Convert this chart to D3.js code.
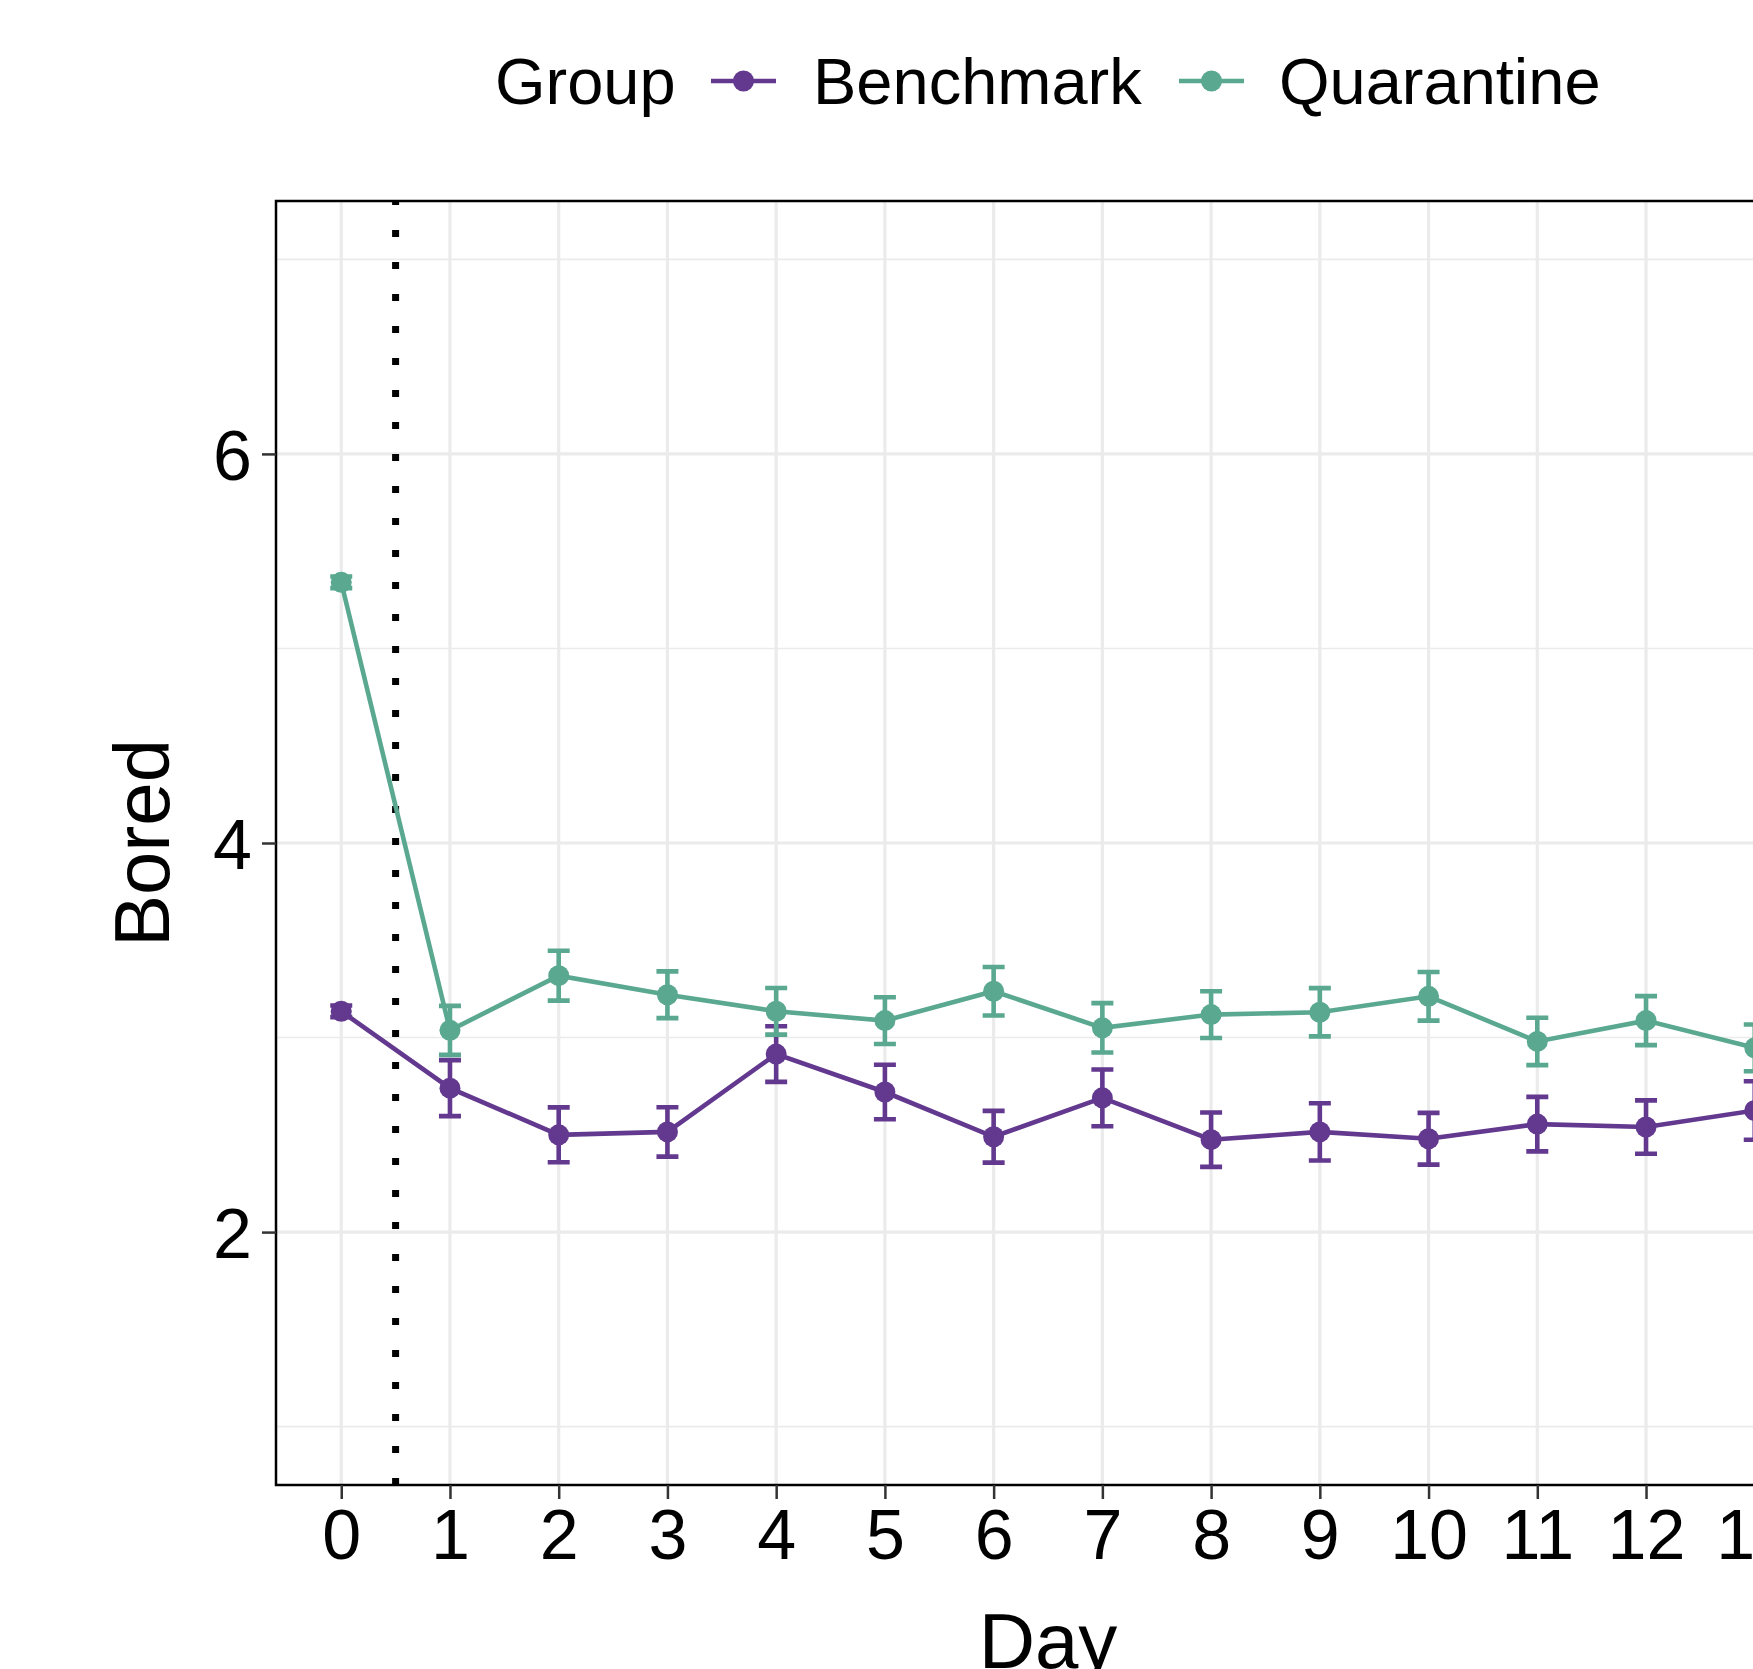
<html>
<head>
<meta charset="utf-8">
<style>
  body { margin: 0; background: #fff; }
  text { font-family: "Liberation Sans", Arial, Helvetica, sans-serif; fill: #000; }
</style>
</head>
<body>
<script src="https://cdn.jsdelivr.net/npm/d3@7"></script>
<script>
// data
var days = [0, 1, 2, 3, 4, 5, 6, 7, 8, 9, 10, 11, 12, 13];
var groups = ["Benchmark", "Quarantine"];
var benchMean = [3.135, 2.74, 2.50, 2.515, 2.915, 2.72, 2.49, 2.69, 2.475, 2.515, 2.48, 2.555, 2.54, 2.625];
var benchSE   = [0.03, 0.144, 0.141, 0.127, 0.143, 0.14, 0.133, 0.146, 0.14, 0.147, 0.133, 0.14, 0.137, 0.15];
var quarMean  = [5.34, 3.037, 3.318, 3.22, 3.135, 3.087, 3.238, 3.05, 3.118, 3.13, 3.212, 2.98, 3.087, 2.947];
var quarSE    = [0.03, 0.126, 0.128, 0.12, 0.12, 0.12, 0.125, 0.127, 0.12, 0.124, 0.125, 0.122, 0.126, 0.12];
var yTicks = [2, 4, 6];
var yMinor = [1, 3, 5, 7];
var cutDay = 0.5;
var colors = ["#63398F", "#5AA88F"];

var W = 1753, H = 1669;
var svg = d3.select("body").append("svg").attr("width", W).attr("height", H);

// panel (cropped on the right like the original)
var pLeft = 276, pTop = 201, pBottom = 1485, pRight = 1820;
var x = d3.scaleLinear().domain([-0.6, days.length - 1 + 0.6]).range([pLeft, pRight]);
var y = d3.scaleLinear().domain([0.7, 7.3]).range([pBottom, pTop]);

var series = [
  { name: groups[0], mean: benchMean, se: benchSE, color: colors[0] },
  { name: groups[1], mean: quarMean, se: quarSE, color: colors[1] }
];

var panel = svg.append("g");
panel.append("rect").attr("x", pLeft).attr("y", pTop)
  .attr("width", pRight - pLeft).attr("height", pBottom - pTop).attr("fill", "#fff");

// grid
panel.selectAll(".ymin").data(yMinor).enter().append("line")
  .attr("x1", pLeft).attr("x2", pRight).attr("y1", d => y(d)).attr("y2", d => y(d))
  .attr("stroke", "#EBEBEB").attr("stroke-width", 1.6);
panel.selectAll(".ymaj").data(yTicks).enter().append("line")
  .attr("x1", pLeft).attr("x2", pRight).attr("y1", d => y(d)).attr("y2", d => y(d))
  .attr("stroke", "#EBEBEB").attr("stroke-width", 3.2);
panel.selectAll(".xmaj").data(days).enter().append("line")
  .attr("x1", d => x(d)).attr("x2", d => x(d)).attr("y1", pTop).attr("y2", pBottom)
  .attr("stroke", "#EBEBEB").attr("stroke-width", 3.2);

// dotted cut line
panel.append("line")
  .attr("x1", x(cutDay)).attr("x2", x(cutDay)).attr("y1", pBottom).attr("y2", pTop)
  .attr("stroke", "#000").attr("stroke-width", 7).attr("stroke-dasharray", "7 25");

var line = d3.line().x((d, i) => x(days[i])).y(d => y(d));

series.forEach(function(s) {
  var g = panel.append("g");
  g.append("path").attr("d", line(s.mean)).attr("fill", "none")
    .attr("stroke", s.color).attr("stroke-width", 4.6);
  g.selectAll("circle").data(s.mean).enter().append("circle")
    .attr("cx", (d, i) => x(days[i])).attr("cy", d => y(d)).attr("r", 10.5)
    .attr("fill", s.color);
  g.selectAll(".eb").data(s.mean).enter().append("path")
    .attr("d", function(d, i) {
      var cx = x(days[i]), hi = y(d + s.se[i]), lo = y(d - s.se[i]), w = 11;
      return "M" + (cx - w) + "," + hi + "H" + (cx + w) +
             "M" + cx + "," + hi + "V" + lo +
             "M" + (cx - w) + "," + lo + "H" + (cx + w);
    })
    .attr("fill", "none").attr("stroke", s.color).attr("stroke-width", 4.6);
});

// border
panel.append("rect").attr("x", pLeft).attr("y", pTop)
  .attr("width", pRight - pLeft).attr("height", pBottom - pTop)
  .attr("fill", "none").attr("stroke", "#000").attr("stroke-width", 2.5);

// axes
var yAxis = d3.axisLeft(y).tickValues(yTicks).tickSize(14).tickPadding(10).tickFormat(d3.format("d"));
var gy = svg.append("g").attr("transform", "translate(" + pLeft + ",0)").call(yAxis);
gy.select(".domain").remove();
gy.selectAll(".tick line").attr("stroke", "#333").attr("stroke-width", 2.5);
gy.selectAll(".tick text").attr("font-size", 70).attr("fill", "#000")
  .attr("font-family", "'Liberation Sans', Arial, sans-serif").attr("dy", "0.36em");

var xAxis = d3.axisBottom(x).tickValues(days).tickSize(14).tickPadding(10).tickFormat(d3.format("d"));
var gx = svg.append("g").attr("transform", "translate(0," + pBottom + ")").call(xAxis);
gx.select(".domain").remove();
gx.selectAll(".tick line").attr("stroke", "#333").attr("stroke-width", 2.5);
gx.selectAll(".tick text").attr("font-size", 70).attr("fill", "#000")
  .attr("font-family", "'Liberation Sans', Arial, sans-serif").attr("dy", "0.71em");

// axis titles
svg.append("text").attr("x", (pLeft + pRight) / 2).attr("y", 1668)
  .attr("text-anchor", "middle").attr("font-size", 78).text("Day");
svg.append("text").attr("transform", "translate(169," + ((pTop + pBottom) / 2) + ") rotate(-90)")
  .attr("text-anchor", "middle").attr("font-size", 78).text("Bored");

// legend
var leg = svg.append("g");
leg.append("text").attr("x", 495).attr("y", 104).attr("font-size", 65).text("Group");
var keyX = [711, 1179], labX = [813, 1279];
groups.forEach(function(gname, i) {
  leg.append("line").attr("x1", keyX[i]).attr("x2", keyX[i] + 65)
    .attr("y1", 81).attr("y2", 81).attr("stroke", colors[i]).attr("stroke-width", 4.6);
  leg.append("circle").attr("cx", keyX[i] + 32.5).attr("cy", 81).attr("r", 10.5).attr("fill", colors[i]);
  leg.append("text").attr("x", labX[i]).attr("y", 104).attr("font-size", 65).text(gname);
});
</script>
</body>
</html>
